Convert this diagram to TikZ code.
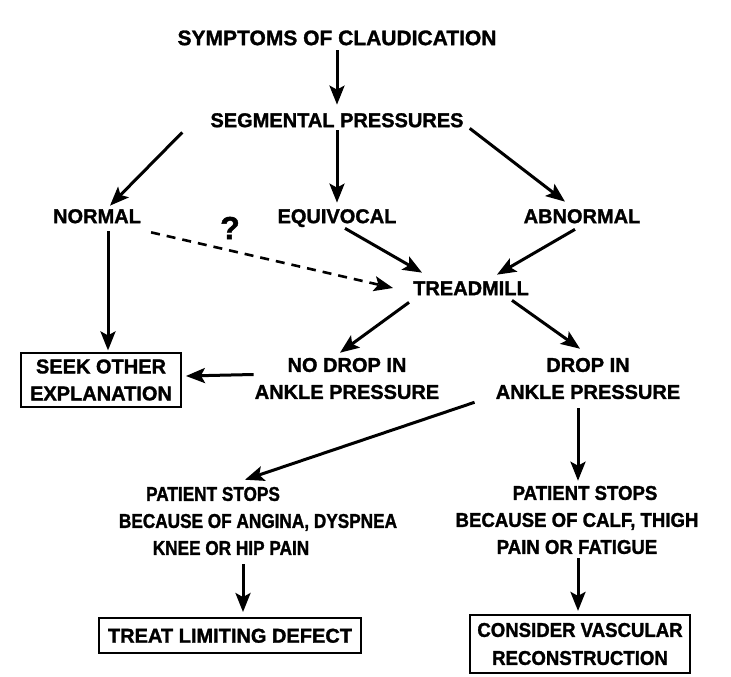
\documentclass[tikz,border=0pt]{standalone}
\usepackage{fontspec}
\setmainfont{Liberation Sans}
\newfontfamily\lb{Liberation Sans Bold}[FakeBold=1.4]
\newfontfamily\lbn{Liberation Sans Bold}[FakeBold=1.4, FakeStretch=0.86]
\newfontfamily\lbr{Liberation Sans Bold}[FakeBold=1.4, FakeStretch=0.93]
\usetikzlibrary{arrows.meta}
\begin{document}
\begin{tikzpicture}[x=1pt,y=-1pt,
  lbl/.style={font=\lb\fontsize{20}{27}\selectfont, inner sep=3pt, text height=14.3pt, text depth=0pt},
  mlbl/.style={font=\lb\fontsize{20}{27}\selectfont, inner sep=3pt, align=center},
  boxed/.style={draw, line width=2pt},
  arr/.style={line width=3pt, -{Stealth[length=19pt,width=15pt,inset=4pt]}},
  dsh/.style={line width=2.6pt, dash pattern=on 9pt off 7pt}]
\useasboundingbox (0,0) rectangle (731,677);
% nodes
\node[lbl, font=\lb\fontsize{21}{27}\selectfont] (sym) at (337,38) {SYMPTOMS OF CLAUDICATION};
\node[lbl] (seg) at (337,120) {SEGMENTAL PRESSURES};
\node[lbl] (normal) at (97,216) {NORMAL};
\node[lbl] (equiv) at (337,216) {EQUIVOCAL};
\node[lbl] (abnormal) at (582,216) {ABNORMAL};
\node[font=\lb\fontsize{32}{34}\selectfont, inner sep=0pt] (q) at (230,228) {?};
\node[lbl] (tread) at (471,288) {TREADMILL};
\node[mlbl, boxed, inner xsep=9pt, inner ysep=6pt] (seek) at (101,380) {SEEK OTHER\\EXPLANATION};
\node[mlbl] (nodrop) at (347,378.5) {NO DROP IN\\ANKLE PRESSURE};
\node[mlbl] (drop) at (588,378.5) {DROP IN\\ANKLE PRESSURE};
\node[mlbl, font=\lbn\fontsize{20}{27}\selectfont] (pl) at (258,521) {PATIENT STOPS\hspace*{90pt}\\BECAUSE OF ANGINA, DYSPNEA\\KNEE OR HIP PAIN\hspace*{54pt}};
\node[mlbl, font=\lbr\fontsize{20}{27}\selectfont] (pr) at (577,520) {\hspace*{16pt}PATIENT STOPS\\BECAUSE OF CALF, THIGH\\PAIN OR FATIGUE};
\node[mlbl, boxed, inner xsep=9pt, inner ysep=10.3pt, text height=14.3pt, text depth=0pt] (treat) at (230,635.5) {TREAT LIMITING DEFECT};
\node[mlbl, boxed, font=\lbr\fontsize{20}{28}\selectfont, inner xsep=7pt, inner ysep=8pt] (consider) at (580,644) {CONSIDER VASCULAR\\RECONSTRUCTION};
% connectors
\draw[arr] ([yshift=-2pt]sym.south) -- ([yshift=5pt]seg.north);
\draw[arr] ([xshift=-25pt,yshift=-2pt]seg.south west) -- ([xshift=13pt]normal.north);
\draw[arr] (seg.south) -- ([yshift=3pt]equiv.north);
\draw[arr] ([xshift=3pt,yshift=2pt]seg.south east) -- ([xshift=-17pt,yshift=4pt]abnormal.north);
\draw[arr] ([xshift=11pt,yshift=-5pt]normal.south) -- ([xshift=7pt,yshift=2pt]seek.north);
\draw[dsh, -{Stealth[length=19pt,width=15pt,inset=4pt]}] ([xshift=7pt,yshift=-6pt]normal.south east) -- ([xshift=-17pt]tread.west);
\draw[arr] ([xshift=8pt,yshift=-2pt]equiv.south) -- ([xshift=12pt,yshift=5pt]tread.north west);
\draw[arr] ([xshift=-7pt,yshift=-3pt]abnormal.south) -- ([xshift=-35pt,yshift=3pt]tread.north east);
\draw[arr] ([xshift=-1pt,yshift=-4pt]tread.south west) -- ([xshift=-7pt,yshift=2pt]nodrop.north);
\draw[arr] ([xshift=-20pt,yshift=-2pt]tread.south east) -- ([xshift=-8pt,yshift=6pt]drop.north);
\draw[arr] ([xshift=2pt,yshift=4pt]nodrop.west) -- ([xshift=4pt,yshift=4pt]seek.east);
\draw[arr] ([xshift=-18pt,yshift=0pt]drop.south west) -- ([xshift=-13pt,yshift=4pt]pl.north);
\draw[arr] ([xshift=-10pt,yshift=-6pt]drop.south) -- ([xshift=1pt,yshift=2pt]pr.north);
\draw[arr] ([xshift=-15pt,yshift=-6pt]pl.south) -- ([xshift=13pt,yshift=5pt]treat.north);
\draw[arr] ([xshift=1pt,yshift=-1pt]pr.south) -- ([xshift=-2pt,yshift=3pt]consider.north);
\end{tikzpicture}
\end{document}
